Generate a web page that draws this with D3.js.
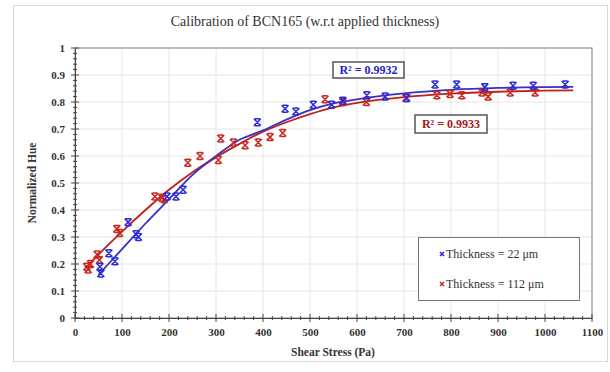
<!DOCTYPE html>
<html>
<head>
<meta charset="utf-8">
<script src="https://cdn.jsdelivr.net/npm/d3@7"></script>
<style>
  body { margin: 0; background: #fff; }
  svg text { font-family: "Liberation Serif", "Times New Roman", "DejaVu Serif", serif; }
</style>
</head>
<body>
<script>
"use strict";
(function(){
    // blue series, thickness = 22 um
    const blueX = [53, 55, 72, 85, 113, 130, 135, 196, 215, 230, 388, 447, 470, 507, 546, 570, 621, 660, 706, 766, 812, 872, 932, 975, 1043]
    const blueY = [0.19, 0.165, 0.24, 0.21, 0.355, 0.31, 0.30, 0.45, 0.45, 0.475, 0.725, 0.775, 0.765, 0.79, 0.79, 0.805, 0.825, 0.82, 0.815, 0.865, 0.865, 0.855, 0.86, 0.86, 0.865]
    // red series, thickness = 112 um
    const redX = [25, 28, 33, 47, 52, 89, 95, 170, 185, 190, 240, 266, 305, 310, 337, 362, 390, 415, 442, 532, 570, 620, 704, 770, 798, 823, 866, 879, 926, 979]
    const redY = [0.19, 0.18, 0.20, 0.235, 0.215, 0.33, 0.315, 0.45, 0.445, 0.44, 0.575, 0.60, 0.585, 0.665, 0.65, 0.64, 0.65, 0.67, 0.685, 0.81, 0.80, 0.80, 0.815, 0.825, 0.83, 0.825, 0.835, 0.82, 0.835, 0.835]
    // trend lines
    const trendBlueX = [50, 100, 150, 200, 250, 300, 350, 400, 450, 500, 550, 600, 700, 800, 900, 1000, 1060]
    const trendBlueY = [0.16, 0.255, 0.35, 0.44, 0.53, 0.60, 0.66, 0.695, 0.735, 0.77, 0.795, 0.81, 0.832, 0.845, 0.852, 0.855, 0.856]
    const trendRedX = [25, 50, 100, 150, 200, 250, 300, 350, 400, 450, 500, 550, 600, 700, 800, 900, 1000, 1060]
    const trendRedY = [0.19, 0.235, 0.32, 0.40, 0.475, 0.54, 0.595, 0.645, 0.69, 0.725, 0.755, 0.78, 0.797, 0.818, 0.831, 0.838, 0.842, 0.843]

    const xTicks = [0, 100, 200, 300, 400, 500, 600, 700, 800, 900, 1000, 1100]
    const yTicks = [0, 0.1, 0.2, 0.3, 0.4, 0.5, 0.6, 0.7, 0.8, 0.9, 1]

    const measurements = { width: 610, height: 372, left: 75, right: 592, top: 48, bottom: 318 }
    const blue = "#2b2bd6", red = "#c8281e"
    const serif = '"Liberation Serif", "Times New Roman", "DejaVu Serif", serif'

    const svg = d3.select('body').append('svg')
        .attr('width', measurements.width)
        .attr('height', measurements.height)

    // outer chart frame
    svg.append('rect')
        .attr('x', 13.5).attr('y', 5.5)
        .attr('width', 594).attr('height', 356)
        .attr('fill', 'none').attr('stroke', '#d8d8d8')

    const scaleX = d3.scaleLinear().domain([0, 1100]).range([measurements.left, measurements.right])
    const scaleY = d3.scaleLinear().domain([0, 1]).range([measurements.bottom, measurements.top])

    // grid
    svg.append('g').selectAll('line').data(xTicks.slice(1)).enter().append('line')
        .attr('x1', d => scaleX(d)).attr('x2', d => scaleX(d))
        .attr('y1', measurements.top).attr('y2', measurements.bottom)
        .attr('stroke', '#e6e6e6')
    svg.append('g').selectAll('line').data(yTicks.slice(1)).enter().append('line')
        .attr('x1', measurements.left).attr('x2', measurements.right)
        .attr('y1', d => scaleY(d)).attr('y2', d => scaleY(d))
        .attr('stroke', '#e6e6e6')

    // plot border
    svg.append('rect')
        .attr('x', measurements.left).attr('y', measurements.top)
        .attr('width', measurements.right - measurements.left)
        .attr('height', measurements.bottom - measurements.top)
        .attr('fill', 'none').attr('stroke', '#888')

    // axes
    const xAxis = d3.axisBottom(scaleX).tickValues(xTicks).tickSize(0).tickPadding(10).tickFormat(d3.format('d'))
    const xg = svg.append('g').attr('transform', `translate(0,${measurements.bottom})`).call(xAxis)
    const yAxis = d3.axisLeft(scaleY).tickValues(yTicks).tickSize(0).tickPadding(10).tickFormat(d3.format('~g'))
    const yg = svg.append('g').attr('transform', `translate(${measurements.left},0)`).call(yAxis)
    for (const g of [xg, yg]) {
        g.attr('font-family', serif)
        g.select('.domain').attr('stroke', '#444')
        g.selectAll('text').attr('font-weight', 'bold')
            .attr('font-size', 11).attr('fill', '#333')
    }

    // tick marks crossing the axes
    const minorX = d3.range(0, 1101, 20)
    const minorY = d3.range(0, 1.001, 0.02)
    svg.append('g').selectAll('line').data(minorX).enter().append('line')
        .attr('x1', d => scaleX(d)).attr('x2', d => scaleX(d))
        .attr('y1', d => measurements.bottom - (d % 100 === 0 ? 4 : 2))
        .attr('y2', d => measurements.bottom + (d % 100 === 0 ? 4 : 2))
        .attr('stroke', '#444')
    svg.append('g').selectAll('line').data(minorY).enter().append('line')
        .attr('y1', d => scaleY(d)).attr('y2', d => scaleY(d))
        .attr('x1', (d, i) => measurements.left - (i % 5 === 0 ? 4 : 2))
        .attr('x2', (d, i) => measurements.left + (i % 5 === 0 ? 4 : 2))
        .attr('stroke', '#444')

    // trend lines
    const line = d3.line().curve(d3.curveMonotoneX)
        .x(d => scaleX(d[0])).y(d => scaleY(d[1]))
    svg.append('path').datum(d3.zip(trendRedX, trendRedY))
        .attr('d', line).attr('fill', 'none').attr('stroke', '#c0201c').attr('stroke-width', 1.8)
    svg.append('path').datum(d3.zip(trendBlueX, trendBlueY))
        .attr('d', line).attr('fill', 'none').attr('stroke', '#3a2fc4').attr('stroke-width', 1.8)

    // star-like x markers
    const s = 3.5
    const markerPath = `M${-s},${-s}L${s},${s}M${-s},${s}L${s},${-s}M${-s * 0.7},${-s}L${s * 0.7},${-s}M${-s * 0.7},${s}L${s * 0.7},${s}`
    function plotSeries(xs, ys, color) {
        svg.append('g').selectAll('path').data(d3.zip(xs, ys)).enter().append('path')
            .attr('transform', d => `translate(${scaleX(d[0])},${scaleY(d[1])})`)
            .attr('d', markerPath)
            .attr('fill', 'none').attr('stroke', color).attr('stroke-width', 1.5)
    }
    plotSeries(redX, redY, red)
    plotSeries(blueX, blueY, blue)

    // title and axis labels
    svg.append('text').attr('x', 305).attr('y', 26).attr('text-anchor', 'middle')
        .attr('font-size', 14).attr('fill', '#333')
        .text('Calibration of BCN165 (w.r.t applied thickness)')
    svg.append('text').attr('x', 333).attr('y', 356).attr('text-anchor', 'middle')
        .attr('font-size', 11.5).attr('font-weight', 'bold').attr('fill', '#333')
        .text('Shear Stress (Pa)')
    svg.append('text').attr('transform', 'translate(36,183) rotate(-90)').attr('text-anchor', 'middle')
        .attr('font-size', 11.5).attr('font-weight', 'bold').attr('fill', '#333')
        .text('Normalized Hue')

    // R squared boxes
    function rBox(x, y, w, h, color, label) {
        svg.append('rect').attr('x', x).attr('y', y).attr('width', w).attr('height', h)
            .attr('fill', '#fff').attr('stroke', '#555').attr('stroke-width', 1.5)
        svg.append('text').attr('x', x + w / 2).attr('y', y + h / 2 + 4).attr('text-anchor', 'middle')
            .attr('font-size', 12).attr('font-weight', 'bold').attr('fill', color)
            .text(label)
    }
    rBox(333, 62, 71, 16, '#2222cc', 'R² = 0.9932')
    rBox(415, 115, 72, 18, '#a01818', 'R² = 0.9933')

    // legend
    svg.append('rect').attr('x', 418.5).attr('y', 237.5).attr('width', 161).attr('height', 63)
        .attr('fill', '#fff').attr('stroke', '#777')
    const legendItems = [["Thickness = 22 μm", blue], ["Thickness = 112 μm", red]]
    const lg = svg.selectAll('.legend').data(legendItems).enter().append('g')
        .attr('class', 'legend')
        .attr('transform', (d, i) => `translate(0,${i * 30})`)
    lg.append('path').attr('transform', 'translate(442,254)')
        .attr('d', `M-2,-2L2,2M-2,2L2,-2`)
        .attr('stroke', d => d[1]).attr('stroke-width', 1.5)
    lg.append('text').attr('x', 446).attr('y', 258)
        .attr('font-size', 12).attr('fill', '#333')
        .text(d => d[0])
})()
</script>
</body>
</html>
